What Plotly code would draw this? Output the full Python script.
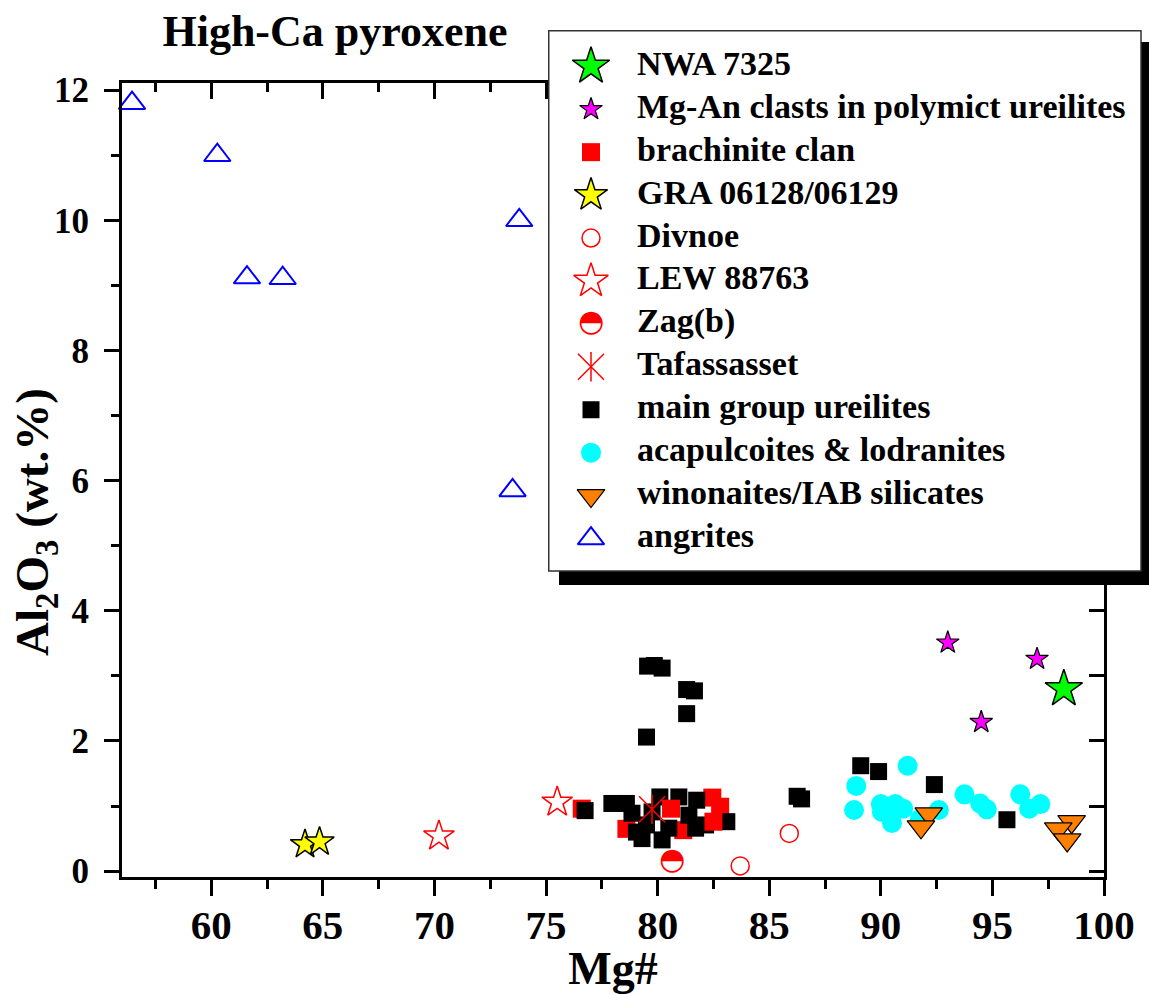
import plotly.graph_objects as go

# ---------------- data ----------------
nwa_x = [98.2]
nwa_y = [2.80]

mgan_x = [93.0, 97.0, 94.5]
mgan_y = [3.51, 3.26, 2.29]

# brachinite clan: first five lie partly under main-group points, last two on top
brach_back_x = [76.6, 78.6, 81.15, 82.45, 82.8]
brach_back_y = [0.96, 0.65, 0.63, 1.13, 0.99]
brach_front_x = [80.6, 82.5]
brach_front_y = [0.96, 0.76]

gra_x = [64.2, 64.85]
gra_y = [0.41, 0.45]

divnoe_x = [83.7, 85.9]
divnoe_y = [0.08, 0.58]

lew_x = [70.2, 75.5]
lew_y = [0.54, 1.06]

zag_x = [80.65]
zag_y = [0.15]

taf_x = [79.75]
taf_y = [0.95]

mgu_x = [79.55, 79.85, 80.2, 81.3, 81.65, 81.3, 79.5,
         76.75, 77.95, 78.6, 78.85, 79.3, 80.2, 79.5, 80.1, 80.95, 80.5,
         81.4, 81.75, 82.15, 83.1, 81.7, 79.75, 79.05,
         86.25, 86.45, 89.1, 89.9, 92.4, 95.65]
mgu_y = [3.15, 3.16, 3.12, 2.79, 2.77, 2.42, 2.06,
         0.93, 1.04, 1.04, 0.89, 0.50, 0.48, 0.71, 1.14, 1.14, 0.66,
         0.86, 1.09, 0.71, 0.76, 0.66, 0.91, 0.60,
         1.15, 1.11, 1.62, 1.53, 1.33, 0.79]

acap_x = [88.9, 88.8, 91.2, 90.0, 90.05, 90.65, 91.0, 90.5, 92.6,
          93.75, 94.45, 94.75, 96.25, 96.65, 97.15, 91.75]
acap_y = [1.31, 0.94, 1.62, 1.03, 0.91, 1.03, 0.96, 0.74, 0.94,
          1.18, 1.04, 0.95, 1.18, 0.96, 1.03, 0.80]

wino_x = [92.15, 91.8, 98.55, 97.95, 98.35]
wino_y = [0.88, 0.68, 0.76, 0.65, 0.48]

ang_x = [56.45, 60.27, 61.6, 63.2, 73.8, 73.5]
ang_y = [11.80, 11.00, 9.12, 9.11, 10.0, 5.85]

legend_labels = ["NWA 7325", "Mg-An clasts in polymict ureilites", "brachinite clan",
                 "GRA 06128/06129", "Divnoe", "LEW 88763", "Zag(b)", "Tafassasset",
                 "main group ureilites", "acapulcoites & lodranites",
                 "winonaites/IAB silicates", "angrites"]

x_title = "Mg#"
y_title = "Al<sub>2</sub>O<sub>3</sub> (wt.%)"
chart_title = "High-Ca pyroxene"

# ---------------- styles ----------------
FONT = "Liberation Serif"
STY = {
    "NWA 7325": dict(symbol="star", color="#00FF00", size=28, lc="black", lw=1.5),
    "Mg-An clasts in polymict ureilites": dict(symbol="star", color="#FF00FF", size=17, lc="black", lw=1.2),
    "brachinite clan": dict(symbol="square", color="#FF0000", size=18, lc="#FF0000", lw=0),
    "GRA 06128/06129": dict(symbol="star", color="#FFFF00", size=22, lc="black", lw=1.5),
    "Divnoe": dict(symbol="circle-open", color="#FF0000", size=18, lc="#FF0000", lw=1.5),
    "LEW 88763": dict(symbol="star-open", color="#FF0000", size=23, lc="#FF0000", lw=1.5),
    "Tafassasset": dict(symbol="x-thin-open", color="#FF0000", size=26, lc="#FF0000", lw=1.5),
    "main group ureilites": dict(symbol="square", color="black", size=17, lc="black", lw=0),
    "acapulcoites & lodranites": dict(symbol="circle", color="#00FFFF", size=20, lc="#00FFFF", lw=0),
    "winonaites/IAB silicates": dict(symbol="triangle-down", color="#FF8000", size=24, lc="black", lw=1.2),
    "angrites": dict(symbol="triangle-up-open", color="#0000FF", size=23, lc="#0000FF", lw=2),
}
TAF_VLINE = dict(symbol="line-ns-open", color="#FF0000", size=21, lw=1.5)
ZAG_GLYPH = dict(text="\u25D3", family="DejaVu Sans", size=30, color="#FF0000")


def marker(name):
    s = STY[name]
    return dict(symbol=s["symbol"], color=s["color"], size=s["size"], opacity=1,
                line=dict(color=s["lc"], width=s["lw"]))


fig = go.Figure()


def add(x, y, name):
    fig.add_trace(go.Scatter(x=x, y=y, mode="markers", name=name, marker=marker(name),
                             showlegend=False, cliponaxis=False))


add(ang_x, ang_y, "angrites")
add(acap_x, acap_y, "acapulcoites & lodranites")
add(wino_x, wino_y, "winonaites/IAB silicates")
add(brach_back_x, brach_back_y, "brachinite clan")
add(mgu_x, mgu_y, "main group ureilites")
add(brach_front_x, brach_front_y, "brachinite clan")
add(divnoe_x, divnoe_y, "Divnoe")
add(lew_x, lew_y, "LEW 88763")
fig.add_trace(go.Scatter(x=zag_x, y=zag_y, mode="text", name="Zag(b)", text=[ZAG_GLYPH["text"]] * len(zag_x),
                         textposition="middle center",
                         textfont=dict(family=ZAG_GLYPH["family"], size=ZAG_GLYPH["size"], color=ZAG_GLYPH["color"]),
                         showlegend=False, cliponaxis=False))
add(taf_x, taf_y, "Tafassasset")
fig.add_trace(go.Scatter(x=taf_x, y=taf_y, mode="markers", name="Tafassasset",
                         marker=dict(symbol=TAF_VLINE["symbol"], color=TAF_VLINE["color"], size=TAF_VLINE["size"],
                                     line=dict(width=TAF_VLINE["lw"])),
                         showlegend=False, cliponaxis=False))
add(gra_x, gra_y, "GRA 06128/06129")
add(mgan_x, mgan_y, "Mg-An clasts in polymict ureilites")
add(nwa_x, nwa_y, "NWA 7325")

# dummy trace to activate the mirrored (top / right) axes with inside ticks
fig.add_trace(go.Scatter(x=[None], y=[None], xaxis="x2", yaxis="y2", showlegend=False, hoverinfo="skip"))

# ---------------- hand-built legend (own subplot, pixel units) ----------------
W, H = 1149, 994
LEG_L, LEG_T, LEG_R, LEG_B = 548, 30, 1149, 585
row0, row_gap = 36.3, 42.93
sym_x, txt_x = 43, 89
rows = [row0 + i * row_gap for i in range(len(legend_labels))]

sym_names = [n for n in legend_labels if n in STY]
sym_rows = [rows[legend_labels.index(n)] for n in sym_names]
fig.add_trace(go.Scatter(
    x=[sym_x] * len(sym_names), y=sym_rows, mode="markers", xaxis="x3", yaxis="y3",
    marker=dict(symbol=[STY[n]["symbol"] for n in sym_names],
                color=[STY[n]["color"] for n in sym_names],
                size=[STY[n]["size"] + (3 if n in ("GRA 06128/06129", "LEW 88763") else 0) for n in sym_names],
                opacity=1,
                line=dict(color=[STY[n]["lc"] for n in sym_names],
                          width=[STY[n]["lw"] for n in sym_names])),
    showlegend=False, hoverinfo="skip", cliponaxis=False))
fig.add_trace(go.Scatter(
    x=[sym_x], y=[rows[legend_labels.index("Tafassasset")]], mode="markers", xaxis="x3", yaxis="y3",
    marker=dict(symbol=TAF_VLINE["symbol"], color=TAF_VLINE["color"], size=TAF_VLINE["size"],
                line=dict(width=TAF_VLINE["lw"])),
    showlegend=False, hoverinfo="skip", cliponaxis=False))
fig.add_trace(go.Scatter(
    x=[sym_x], y=[rows[legend_labels.index("Zag(b)")]], mode="text", xaxis="x3", yaxis="y3",
    text=[ZAG_GLYPH["text"]], textposition="middle center",
    textfont=dict(family=ZAG_GLYPH["family"], size=ZAG_GLYPH["size"], color=ZAG_GLYPH["color"]),
    showlegend=False, hoverinfo="skip", cliponaxis=False))
fig.add_trace(go.Scatter(
    x=[txt_x] * len(legend_labels), y=rows, mode="text", xaxis="x3", yaxis="y3",
    text=legend_labels, textposition="middle right",
    textfont=dict(family=FONT, size=34, color="black", weight="bold"),
    showlegend=False, hoverinfo="skip", cliponaxis=False))

fig.add_shape(type="rect", xref="x3", yref="y3", x0=11, y0=12, x1=LEG_R - LEG_L, y1=LEG_B - LEG_T,
              fillcolor="black", line=dict(width=0), layer="below")
fig.add_shape(type="rect", xref="x3", yref="y3", x0=0.75, y0=0.75, x1=593, y1=541,
              fillcolor="white", line=dict(color="#333333", width=1.5), layer="below")

# ---------------- layout ----------------
PL, PR, PT, PB = 122, 1104, 83, 877
xdom = [PL / W, PR / W]
ydom = [1 - PB / H, 1 - PT / H]
xr = [56, 100]
yr = [-0.09, 12.11]

axis_common = dict(showgrid=False, zeroline=False, showline=True, linecolor="black", linewidth=3,
                   tickcolor="black", tickwidth=3)

fig.update_layout(
    width=W, height=H, margin=dict(l=0, r=0, t=0, b=0, autoexpand=False),
    paper_bgcolor="white", plot_bgcolor="rgba(0,0,0,0)", showlegend=False,
    font=dict(family=FONT, color="black"),
    title=dict(text=chart_title, x=335 / W, xanchor="center", y=1 - 31 / H, yanchor="middle",
               font=dict(family=FONT, size=44, color="black", weight="bold")),
    xaxis=dict(domain=xdom, range=xr, anchor="y", ticks="outside", ticklen=16, dtick=5, tick0=0,
               ticklabelstandoff=-6,
               tickfont=dict(family=FONT, size=41, color="black", weight="bold"),
               minor=dict(dtick=2.5, tick0=0, ticks="outside", ticklen=9, tickwidth=3, tickcolor="black"),
               title=dict(text=x_title, font=dict(family=FONT, size=46, color="black", weight="bold"),
                          standoff=6),
               **axis_common),
    yaxis=dict(domain=ydom, range=yr, anchor="x", ticks="outside", ticklen=15, dtick=2, tick0=0,
               ticklabelstandoff=8,
               tickfont=dict(family=FONT, size=35, color="black", weight="bold"),
               minor=dict(dtick=1, tick0=0, ticks="outside", ticklen=8, tickwidth=3, tickcolor="black"),
               **axis_common),
    xaxis2=dict(overlaying="x", side="top", anchor="y2", range=xr, ticks="inside", ticklen=16, dtick=5,
                tick0=0, showticklabels=False,
                minor=dict(dtick=2.5, tick0=0, ticks="inside", ticklen=9, tickwidth=3, tickcolor="black"),
                **axis_common),
    yaxis2=dict(overlaying="y", side="right", anchor="x2", range=yr, ticks="inside", ticklen=15, dtick=2,
                tick0=0, showticklabels=False,
                minor=dict(dtick=1, tick0=0, ticks="inside", ticklen=15, tickwidth=3, tickcolor="black"),
                **axis_common),
    xaxis3=dict(domain=[LEG_L / W, LEG_R / W], range=[0, LEG_R - LEG_L], anchor="y3", visible=False,
                fixedrange=True),
    yaxis3=dict(domain=[1 - LEG_B / H, 1 - LEG_T / H], range=[LEG_B - LEG_T, 0], anchor="x3", visible=False,
                fixedrange=True),
    annotations=[dict(text=y_title, textangle=-90, x=35 / W, y=1 - 522 / H, xref="paper", yref="paper",
                      xanchor="center", yanchor="middle", showarrow=False,
                      font=dict(family=FONT, size=47, color="black", weight="bold"))],
)

fig.write_html("out.html")
